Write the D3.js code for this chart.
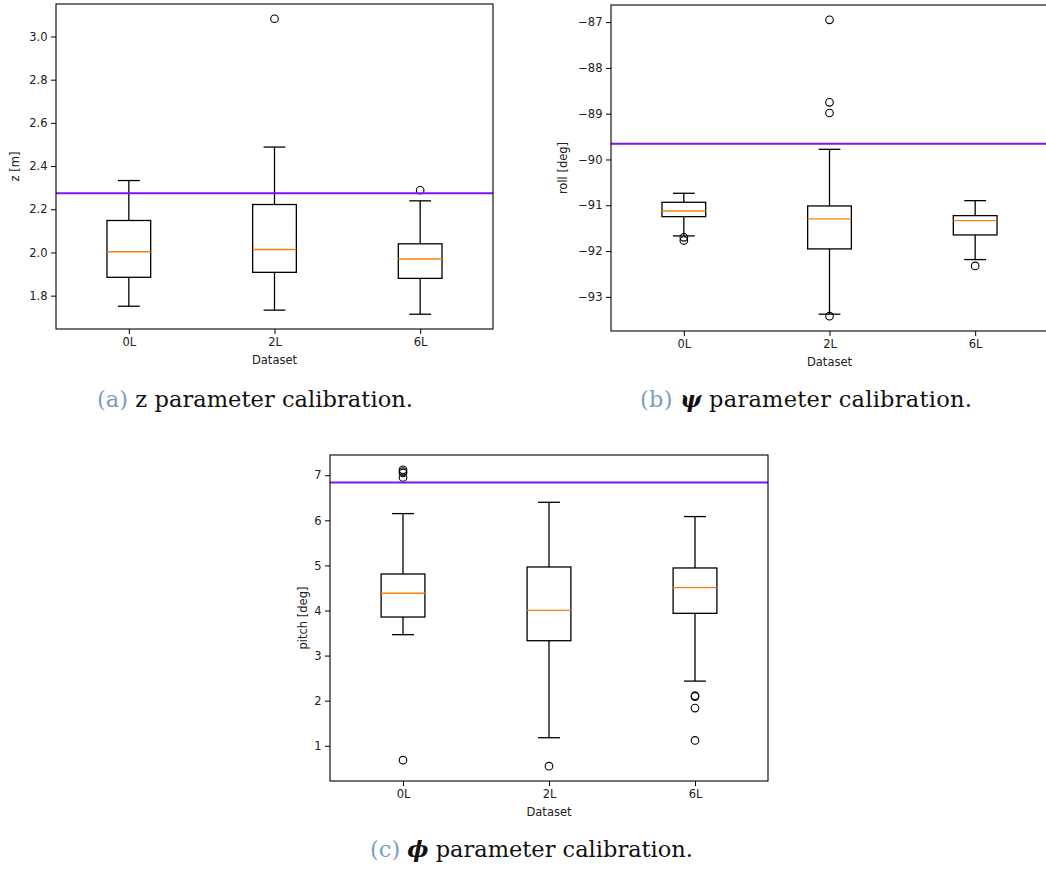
<!DOCTYPE html>
<html><head><meta charset="utf-8">
<script src="https://cdn.jsdelivr.net/npm/d3@7"></script>
<style>body{margin:0;background:#fff;} svg{display:block;background:#fff;}</style>
</head><body><svg id="chart" width="1046" height="869"></svg>
<script>
// ---------- data ----------
const categories = ["0L", "2L", "6L"];

// (a) z [m]
const zWhiskerLow  = [1.751, 1.733, 1.714];
const zQ1          = [1.885, 1.908, 1.880];
const zMedian      = [2.003, 2.014, 1.970];
const zQ3          = [2.148, 2.222, 2.040];
const zWhiskerHigh = [2.333, 2.488, 2.239];
const zOutliers    = [[], [3.082], [2.288]];
const zReference   = 2.274;
const zTicks       = [1.8, 2.0, 2.2, 2.4, 2.6, 2.8, 3.0];

// (b) roll [deg]
const rollWhiskerLow  = [-91.669, -93.378, -92.186];
const rollQ1          = [-91.248, -91.953, -91.648];
const rollMedian      = [-91.124, -91.298, -91.335];
const rollQ3          = [-90.934, -91.015, -91.226];
const rollWhiskerHigh = [-90.738, -89.778, -90.899];
const rollOutliers    = [[-91.70, -91.77], [-86.95, -88.752, -88.985, -93.422], [-92.324]];
const rollReference   = -89.655;
const rollTicks       = [-93, -92, -91, -90, -89, -88, -87];

// (c) pitch [deg]
const pitchWhiskerLow  = [3.464, 1.178, 2.434];
const pitchQ1          = [3.855, 3.330, 3.937];
const pitchMedian      = [4.381, 4.003, 4.507];
const pitchQ3          = [4.809, 4.965, 4.943];
const pitchWhiskerHigh = [6.149, 6.400, 6.083];
const pitchOutliers    = [[7.12, 7.08, 7.05, 6.95, 0.68], [0.547], [2.11, 2.09, 1.835, 1.118]];
const pitchReference   = 6.838;
const pitchTicks       = [1, 2, 3, 4, 5, 6, 7];

// ---------- drawing ----------
const svg = d3.select("#chart");
const FONT = "'DejaVu Sans', sans-serif";
const TICK_FS = 11.5;

function drawPanel(p) {
  const xs = d3.scalePoint().domain(categories).range([p.left, p.right]).padding(0.5);
  const step = xs.step();
  const allVals = d3.merge([p.low, p.high, d3.merge(p.out)]);
  const mn = d3.min(allVals), mx = d3.max(allVals), pad = (mx - mn) * 0.05;
  const ys = d3.scaleLinear().domain([mn - pad, mx + pad]).range([p.bottom, p.top]);

  const g = svg.append("g");
  const boxW = step * 0.3, capW = step * 0.15;

  categories.forEach((c, i) => {
    const cx = xs(c);
    const bg = g.append("g").attr("stroke", "#000").attr("stroke-width", 1.3).attr("fill", "none");
    bg.append("line").attr("x1", cx).attr("x2", cx).attr("y1", ys(p.q1[i])).attr("y2", ys(p.low[i]));
    bg.append("line").attr("x1", cx).attr("x2", cx).attr("y1", ys(p.q3[i])).attr("y2", ys(p.high[i]));
    bg.append("line").attr("x1", cx - capW / 2).attr("x2", cx + capW / 2).attr("y1", ys(p.low[i])).attr("y2", ys(p.low[i]));
    bg.append("line").attr("x1", cx - capW / 2).attr("x2", cx + capW / 2).attr("y1", ys(p.high[i])).attr("y2", ys(p.high[i]));
    bg.append("rect").attr("x", cx - boxW / 2).attr("width", boxW)
      .attr("y", ys(p.q3[i])).attr("height", ys(p.q1[i]) - ys(p.q3[i]));
    g.append("line").attr("x1", cx - boxW / 2).attr("x2", cx + boxW / 2)
      .attr("y1", ys(p.med[i])).attr("y2", ys(p.med[i]))
      .attr("stroke", "#ff7f0e").attr("stroke-width", 1.4);
    g.selectAll(null).data(p.out[i]).enter().append("circle")
      .attr("cx", cx).attr("cy", d => ys(d)).attr("r", 3.8)
      .attr("fill", "none").attr("stroke", "#000").attr("stroke-width", 1.1);
  });

  g.append("line").attr("x1", p.left).attr("x2", p.right)
    .attr("y1", ys(p.ref)).attr("y2", ys(p.ref))
    .attr("stroke", "#7a14f5").attr("stroke-width", 2);

  g.append("rect").attr("x", p.left).attr("y", p.top)
    .attr("width", p.right - p.left).attr("height", p.bottom - p.top)
    .attr("fill", "none").attr("stroke", "#000").attr("stroke-width", 1.1);

  const ya = g.append("g").attr("transform", `translate(${p.left},0)`)
    .call(d3.axisLeft(ys).tickValues(p.ticks).tickFormat(p.fmt).tickSize(5).tickPadding(3.5));
  ya.select(".domain").remove();
  ya.selectAll("text").attr("font-family", FONT).attr("font-size", TICK_FS).attr("fill", "#222");
  ya.selectAll("line").attr("stroke", "#000").attr("stroke-width", 1);

  const xa = g.append("g").attr("transform", `translate(0,${p.bottom})`)
    .call(d3.axisBottom(xs).tickSize(5).tickPadding(4));
  xa.select(".domain").remove();
  xa.selectAll("text").attr("font-family", FONT).attr("font-size", TICK_FS).attr("fill", "#222");
  xa.selectAll("line").attr("stroke", "#000").attr("stroke-width", 1);

  g.append("text").attr("x", (p.left + p.right) / 2).attr("y", p.bottom + 35)
    .attr("text-anchor", "middle").attr("font-family", FONT).attr("font-size", TICK_FS)
    .attr("fill", "#222").text("Dataset");
  g.append("text").attr("transform", `translate(${p.ylabelX},${(p.top + p.bottom) / 2}) rotate(-90)`)
    .attr("text-anchor", "middle").attr("dominant-baseline", "central")
    .attr("font-family", FONT).attr("font-size", TICK_FS).attr("fill", "#222").text(p.ylabel);

  const cap = svg.append("text").attr("x", p.capX).attr("y", p.capY)
    .attr("font-family", "'DejaVu Serif', serif").attr("font-size", 22.5)
    .attr("fill", "#111").attr("textLength", p.capW).attr("lengthAdjust", "spacing");
  cap.append("tspan").attr("fill", "#7b9cc2").text(p.capTag);
  if (p.capSym) {
    cap.append("tspan").text(" ");
    cap.append("tspan").attr("font-weight", "bold").attr("font-style", "italic").text(p.capSym);
  }
  cap.append("tspan").text(p.capText);
}

drawPanel({
  left: 56, right: 493, top: 4, bottom: 329,
  low: zWhiskerLow, q1: zQ1, med: zMedian, q3: zQ3, high: zWhiskerHigh, out: zOutliers,
  ref: zReference, ticks: zTicks, fmt: d3.format(".1f"),
  ylabel: "z [m]", ylabelX: 15,
  capX: 97, capY: 407, capW: 316, capTag: "(a)", capSym: null, capText: " z parameter calibration."
});
drawPanel({
  left: 611, right: 1048, top: 5, bottom: 331,
  low: rollWhiskerLow, q1: rollQ1, med: rollMedian, q3: rollQ3, high: rollWhiskerHigh, out: rollOutliers,
  ref: rollReference, ticks: rollTicks, fmt: d3.format("d"),
  ylabel: "roll [deg]", ylabelX: 563,
  capX: 640, capY: 407, capW: 332, capTag: "(b)", capSym: "ψ", capText: " parameter calibration."
});
drawPanel({
  left: 330, right: 768, top: 455, bottom: 781,
  low: pitchWhiskerLow, q1: pitchQ1, med: pitchMedian, q3: pitchQ3, high: pitchWhiskerHigh, out: pitchOutliers,
  ref: pitchReference, ticks: pitchTicks, fmt: d3.format("d"),
  ylabel: "pitch [deg]", ylabelX: 303,
  capX: 370, capY: 857, capW: 323, capTag: "(c)", capSym: "ϕ", capText: " parameter calibration."
});
</script>
</body></html>
